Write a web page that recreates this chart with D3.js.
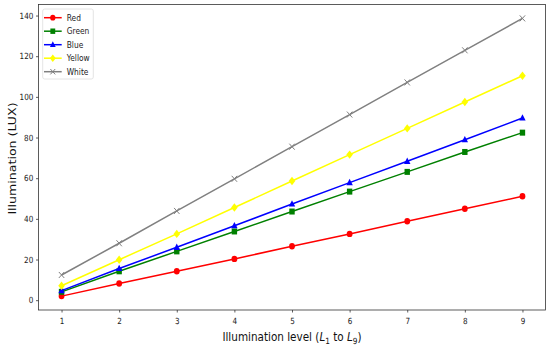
<!DOCTYPE html>
<html><head><meta charset="utf-8">
<script src="https://cdn.jsdelivr.net/npm/d3@7"></script>
<style>body{margin:0;background:#fff}svg{display:block;font-family:"DejaVu Sans",sans-serif}</style>
</head><body><svg id="c" width="550" height="349"></svg>
<script>
const levels = [1,2,3,4,5,6,7,8,9];
const red    = [2.0, 8.2, 14.2, 20.3, 26.5, 32.6, 38.8, 45.0, 51.1];
const green  = [4.1, 14.2, 24.0, 33.8, 43.6, 53.4, 63.1, 72.9, 82.4];
const blue   = [4.7, 15.6, 26.0, 36.6, 47.3, 57.8, 68.3, 78.9, 89.6];
const yellow = [7.1, 19.9, 32.6, 45.6, 58.6, 71.6, 84.5, 97.5, 110.4];
const white  = [12.4, 28.0, 43.9, 59.7, 75.5, 91.3, 107.1, 122.9, 138.6];
const seriesNames = ["Red","Green","Blue","Yellow","White"];
const seriesColors = ["#ff0000","#008000","#0000ff","#ffff00","#808080"];
const seriesMarkers = ["circle","square","triangle","diamond","x"];
const yTicks = [0,20,40,60,80,100,120,140];

const series = [red,green,blue,yellow,white].map((v,i)=>({name:seriesNames[i],color:seriesColors[i],marker:seriesMarkers[i],values:v}));

const C = 0.85; // horizontal text compression
const svg = d3.select("#c");
const L=38.5,R=545.5,T=4.5,B=310;
const allVals = series.flatMap(s=>s.values);
const vmin=d3.min(allVals), vmax=d3.max(allVals), pad=(vmax-vmin)*0.05;
const x = d3.scaleLinear().domain([0.6,9.4]).range([L,R]);
const y = d3.scaleLinear().domain([vmin-pad, vmax+pad]).range([B,T]);

const gx = svg.append("g").attr("transform",`translate(0,${B})`)
  .call(d3.axisBottom(x).tickValues(levels).tickFormat(d3.format("d")).tickSize(2.5).tickPadding(5.5));
const gy = svg.append("g").attr("transform",`translate(${L},0)`)
  .call(d3.axisLeft(y).tickValues(yTicks).tickSize(2.5).tickPadding(2.7));
[gx,gy].forEach(g=>{g.select(".domain").remove();g.selectAll("text").attr("font-size",8.5).attr("fill","#222").attr("font-family","DejaVu Sans");g.selectAll("line").attr("stroke","#333").attr("stroke-width",0.8);});
gx.selectAll("text").attr("transform",`scale(${C},1)`);
gy.selectAll("text").attr("x",-5.2/C).attr("transform",`scale(${C},1)`);

const plot = svg.append("g");
const line = d3.line().x((d,i)=>x(levels[i])).y(d=>y(d));
function marker(g, type, color, cx, cy, s){
  if(type==="circle") g.append("ellipse").attr("cx",cx).attr("cy",cy).attr("rx",2.9*s).attr("ry",3.2*s).attr("fill",color);
  else if(type==="square") g.append("rect").attr("x",cx-2.7*s).attr("y",cy-3*s).attr("width",5.4*s).attr("height",6*s).attr("fill",color);
  else if(type==="triangle") g.append("path").attr("d",`M${cx},${cy-3.8*s}L${cx+3.2*s},${cy+2.6*s}L${cx-3.2*s},${cy+2.6*s}Z`).attr("fill",color);
  else if(type==="diamond") g.append("path").attr("d",`M${cx},${cy-4.2*s}L${cx+3.3*s},${cy}L${cx},${cy+4.2*s}L${cx-3.3*s},${cy}Z`).attr("fill",color);
  else if(type==="x") g.append("path").attr("d",`M${cx-2.7*s},${cy-3*s}L${cx+2.7*s},${cy+3*s}M${cx-2.7*s},${cy+3*s}L${cx+2.7*s},${cy-3*s}`).attr("stroke",color).attr("stroke-width",1);
}
series.forEach(s=>{
  plot.append("path").datum(s.values).attr("d",line).attr("fill","none").attr("stroke",s.color).attr("stroke-width",1.5);
  s.values.forEach((v,i)=>marker(plot,s.marker,s.color,x(levels[i]),y(v),1));
});

svg.append("rect").attr("x",L).attr("y",T).attr("width",R-L).attr("height",B-T).attr("fill","none").attr("stroke","#333").attr("stroke-width",0.8);

// legend
const lg = svg.append("g");
lg.append("rect").attr("x",42.7).attr("y",9).attr("width",50.6).attr("height",70).attr("rx",2).attr("fill","#fff").attr("fill-opacity",0.8).attr("stroke","#ddd").attr("stroke-width",0.8);
series.forEach((s,i)=>{
  const yy=17.7+i*13.5;
  lg.append("line").attr("x1",44).attr("x2",61.7).attr("y1",yy).attr("y2",yy).attr("stroke",s.color).attr("stroke-width",1.5);
  marker(lg,s.marker,s.color,52.8,yy,0.9);
  lg.append("g").attr("transform",`translate(66.7,${yy+3}) scale(${C},1)`)
    .append("text").attr("font-size",8.8).attr("fill","#222").text(s.name);
});

// axis labels
const xl = svg.append("g").attr("transform",`translate(${(L+R)/2},341) scale(0.87,1)`)
  .append("text").attr("text-anchor","middle").attr("font-size",12).attr("fill","#111");
xl.append("tspan").text("Illumination level (");
xl.append("tspan").attr("font-style","italic").text("L");
xl.append("tspan").attr("font-size",8.5).attr("dy",2.5).text("1");
xl.append("tspan").attr("dy",-2.5).text(" to ");
xl.append("tspan").attr("font-style","italic").text("L");
xl.append("tspan").attr("font-size",8.5).attr("dy",2.5).text("9");
xl.append("tspan").attr("dy",-2.5).text(")");

svg.append("g").attr("transform",`translate(16,158.5) scale(0.8,1) rotate(-90)`)
  .append("text").attr("text-anchor","middle").attr("font-size",12.6).attr("fill","#111").text("Illumination (LUX)");
</script></body></html>
